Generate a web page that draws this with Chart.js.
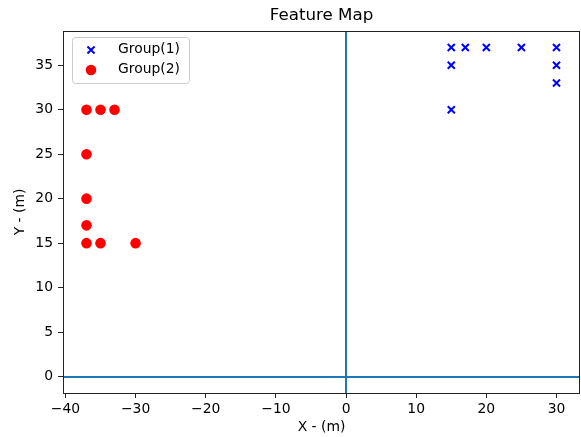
<!DOCTYPE html>
<html>
<head>
<meta charset="utf-8">
<script src="https://cdn.jsdelivr.net/npm/chart.js@4"></script>
<style>
  html, body { margin: 0; padding: 0; background: #fff; }
  #wrap { width: 581px; height: 437px; }
</style>
</head>
<body>
<div id="wrap"><canvas id="c" width="581" height="437"></canvas></div>
<script>
// Group(1) feature positions
const group1X = [15, 17, 20, 25, 30, 15, 30, 30, 15];
const group1Y = [37, 37, 37, 37, 37, 35, 35, 33, 30];
// Group(2) feature positions
const group2X = [-37, -35, -33, -37, -37, -37, -37, -35, -30];
const group2Y = [30, 30, 30, 25, 20, 17, 15, 15, 15];
// reference axes through the origin
const refLineX = [0];
const refLineY = [0];
// axis ranges and tick steps
const xRange = [-40.35, 33.35];
const yRange = [-1.85, 38.85];
const xStep = 10;
const yStep = 5;

const FONT = 'DejaVu Sans';
const toPoints = (xs, ys) => xs.map((x, i) => ({ x: x, y: ys[i] }));

// box around the plot, origin lines, title and legend
const framePlugin = {
  id: 'frame',
  afterDatasetsDraw(chart) {
    const { ctx, chartArea: a, scales } = chart;
    ctx.save();
    ctx.strokeStyle = '#1f77b4';
    ctx.lineWidth = 2;
    refLineY.forEach(v => {
      const y = Math.round(scales.y.getPixelForValue(v));
      ctx.beginPath(); ctx.moveTo(a.left, y); ctx.lineTo(a.right, y); ctx.stroke();
    });
    refLineX.forEach(v => {
      const x = Math.round(scales.x.getPixelForValue(v));
      ctx.beginPath(); ctx.moveTo(x, a.top); ctx.lineTo(x, a.bottom); ctx.stroke();
    });
    ctx.strokeStyle = '#222';
    ctx.lineWidth = 1;
    ctx.strokeRect(Math.round(a.left) + 0.5, Math.round(a.top) + 0.5,
                   Math.round(a.right - a.left) - 1, Math.round(a.bottom - a.top));

    // title
    ctx.fillStyle = '#000';
    ctx.font = '16.7px "' + FONT + '"';
    ctx.textAlign = 'center';
    ctx.textBaseline = 'middle';
    ctx.fillText('Feature Map', (a.left + a.right) / 2, 16);

    // legend
    const lx = a.left + 9, ly = a.top + 6, lw = 117, lh = 46;
    ctx.beginPath();
    ctx.roundRect(lx + 0.5, ly + 0.5, lw, lh, 3);
    ctx.fillStyle = 'rgba(255,255,255,0.8)';
    ctx.fill();
    ctx.strokeStyle = '#cccccc';
    ctx.lineWidth = 1;
    ctx.stroke();
    chart.data.datasets.forEach((ds, i) => {
      const cy = ly + 13 + i * 20;
      ctx.fillStyle = ds.backgroundColor;
      ctx.strokeStyle = ds.borderColor;
      ctx.lineWidth = ds.borderWidth;
      Chart.helpers.drawPoint(ctx, {
        pointStyle: ds.pointStyle, radius: ds.pointRadius, borderWidth: ds.borderWidth
      }, lx + 19, cy);
      ctx.fillStyle = '#000';
      ctx.font = '13.9px "' + FONT + '"';
      ctx.textAlign = 'left';
      ctx.textBaseline = 'middle';
      ctx.fillText(ds.label, lx + 46, cy - 1);
    });
    ctx.restore();
  }
};

const tickFont = { family: FONT, size: 13.9 };
const gridOpts = {
  display: true, drawOnChartArea: false, drawTicks: true,
  tickLength: 5, color: '#222', lineWidth: 1
};

new Chart(document.getElementById('c'), {
  type: 'scatter',
  data: {
    datasets: [
      {
        label: 'Group(1)',
        data: toPoints(group1X, group1Y),
        pointStyle: 'crossRot',
        pointRadius: 5,
        pointHoverRadius: 5,
        borderWidth: 2,
        borderColor: '#0000ff',
        backgroundColor: '#0000ff'
      },
      {
        label: 'Group(2)',
        data: toPoints(group2X, group2Y),
        pointStyle: 'circle',
        pointRadius: 5.3,
        pointHoverRadius: 5.3,
        borderWidth: 0,
        borderColor: '#ff0000',
        backgroundColor: '#ff0000'
      }
    ]
  },
  options: {
    responsive: false,
    animation: false,
    events: [],
    layout: { autoPadding: false, padding: { top: 31, right: 1, left: 0, bottom: 0 } },
    plugins: {
      legend: { display: false },
      title: { display: false },
      tooltip: { enabled: false }
    },
    scales: {
      x: {
        type: 'linear',
        min: xRange[0], max: xRange[1],
        afterBuildTicks(s) {
          const t = [];
          for (let v = Math.ceil(xRange[0] / xStep) * xStep; v <= xRange[1]; v += xStep) t.push({ value: v });
          s.ticks = t;
        },
        afterFit(s) { s.height = 44; s.paddingLeft = 0; s.paddingRight = 0; },
        grid: gridOpts,
        border: { display: false },
        ticks: {
          font: tickFont, color: '#000', padding: 3, maxRotation: 0,
          callback: v => (v < 0 ? '\u2212' + Math.abs(v) : String(v))
        },
        title: {
          display: true, text: 'X - (m)', color: '#000',
          font: tickFont, padding: { top: 0, bottom: 1 }
        }
      },
      y: {
        type: 'linear',
        min: yRange[0], max: yRange[1],
        afterBuildTicks(s) {
          const t = [];
          for (let v = Math.ceil(yRange[0] / yStep) * yStep; v <= yRange[1]; v += yStep) t.push({ value: v });
          s.ticks = t;
        },
        afterFit(s) { s.width = 63; s.paddingTop = 0; s.paddingBottom = 0; },
        grid: gridOpts,
        border: { display: false },
        ticks: { font: tickFont, color: '#000', padding: 5 },
        title: {
          display: true, text: 'Y - (m)', color: '#000',
          font: tickFont, padding: { top: 12, bottom: 0 }
        }
      }
    }
  },
  plugins: [framePlugin]
});
</script>
</body>
</html>
